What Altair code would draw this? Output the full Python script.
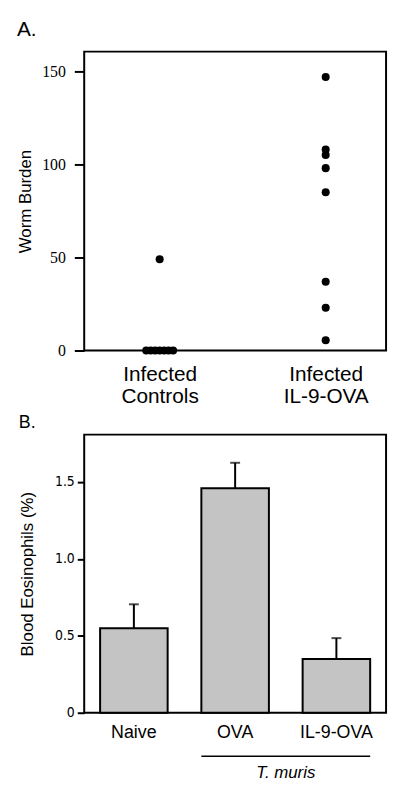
import altair as alt
import pandas as pd

# ---------------- Panel A data ----------------
groups = ["Infected Controls", "Infected IL-9-OVA"]
group_labels = [["Infected", "Controls"], ["Infected", "IL-9-OVA"]]
controls_worms = [0, 0, 0, 0, 0, 0, 0, 49]
il9_worms = [147, 108, 105, 98, 85, 37, 23, 5.5]

# ---------------- Panel B data ----------------
conditions = ["Naive", "OVA", "IL-9-OVA"]
eosinophils = [0.55, 1.46, 0.35]
eos_sem = [0.155, 0.165, 0.135]
bracket_start = "OVA"
bracket_end = "IL-9-OVA"
bracket_label = "T. muris"

dfA = pd.DataFrame(
    {"gi": [0] * len(controls_worms) + [1] * len(il9_worms),
     "worms": controls_worms + il9_worms}
)
dfB = pd.DataFrame({"cond": conditions, "eos": eosinophils, "sem": eos_sem})
dfB["upper"] = dfB["eos"] + dfB["sem"]
dfBr = pd.DataFrame({"start": [bracket_start], "end": [bracket_end], "label": [bracket_label]})

W = 305
HA = 302
HB = 281

label_expr = "[" + ",".join("['" + "','".join(l) + "']" for l in group_labels) + "][datum.value]"

chartA = (
    alt.Chart(dfA)
    .transform_window(rank="row_number()", groupby=["gi", "worms"])
    .transform_joinaggregate(n="count()", groupby=["gi", "worms"])
    .transform_calculate(xpos="datum.gi + (datum.rank - (datum.n + 1) / 2) * 0.027")
    .mark_circle(size=66, color="black", opacity=1)
    .encode(
        x=alt.X(
            "xpos:Q",
            scale=alt.Scale(domain=[-0.4545, 1.3636], nice=False, zero=False),
            axis=alt.Axis(
                values=[0, 1], labelExpr=label_expr, ticks=False, domain=False, grid=False,
                labelFontSize=21, labelLineHeight=23, labelPadding=13, title=None,
                labelColor="black", labelFont="Liberation Sans",
            ),
        ),
        y=alt.Y(
            "worms:Q",
            scale=alt.Scale(domain=[0, 160.6], nice=False),
            axis=alt.Axis(
                values=[0, 50, 100, 150], grid=False, domain=False, tickSize=10, tickWidth=2,
                tickColor="black", labelFont="Liberation Serif", labelFontSize=16,
                labelColor="black", labelPadding=9, title="Worm Burden", titleFontSize=17,
                titleFontWeight="normal", titleFont="Liberation Sans", titleColor="black",
                titlePadding=7,
            ),
        ),
    )
    .properties(
        width=W, height=HA,
        title=alt.TitleParams("A.", anchor="start", fontSize=21, fontWeight="normal",
                              font="Liberation Sans", color="black", offset=12, frame="bounds"),
    )
)

xB = alt.Scale(domain=conditions, paddingInner=0.333, paddingOuter=0.157)
yB = alt.Scale(domain=[0, 1.808], nice=False)
xaxisB = alt.Axis(ticks=False, domain=False, labelAngle=0, labelFontSize=18,
                  labelAlign="center", bandPosition=0.5,
                  labelPadding=11, title=None, labelColor="black", labelFont="Liberation Sans")

bars = alt.Chart(dfB).mark_bar(color="#c4c4c4", stroke="black", strokeWidth=2).encode(
    x=alt.X("cond:N", scale=xB, sort=conditions, axis=xaxisB),
    y=alt.Y(
        "eos:Q", scale=yB,
        axis=alt.Axis(
            values=[0, 0.5, 1.0, 1.5], grid=False, domain=False, tickSize=7, tickWidth=2,
            tickColor="black", labelExpr="datum.value == 0 ? '0' : format(datum.value, '.1f')",
            labelFont="Liberation Sans Narrow, DejaVu Sans Condensed, Liberation Sans",
            labelFontSize=14, labelColor="black",
            labelPadding=3, title="Blood Eosinophils (%)", titleFontSize=17,
            titleFontWeight="normal", titleFont="Liberation Sans", titleColor="black",
            titlePadding=18,
        ),
    ),
)
err = alt.Chart(dfB).mark_rule(color="black", strokeWidth=2).encode(
    x=alt.X("cond:N", scale=xB, sort=conditions, axis=xaxisB),
    y=alt.Y("eos:Q", scale=yB), y2="upper:Q"
)
caps = alt.Chart(dfB).mark_tick(color="black", thickness=2, size=10, orient="horizontal").encode(
    x=alt.X("cond:N", scale=xB, sort=conditions, axis=xaxisB), y=alt.Y("upper:Q", scale=yB)
)
bracket = alt.Chart(dfBr).mark_rule(color="black", strokeWidth=1.5).encode(
    x=alt.X("start:N", scale=xB, bandPosition=0, axis=xaxisB),
    x2=alt.X2("end:N", bandPosition=1),
    y=alt.value(HB + 44),
)
bracket_text = alt.Chart(dfBr).mark_text(
    fontSize=17, fontStyle="italic", font="Liberation Sans", color="black",
    baseline="alphabetic", dx=17,
).encode(
    x=alt.X("start:N", scale=xB, bandPosition=1, axis=xaxisB),
    y=alt.value(HB + 66),
    text="label:N",
)

chartB = alt.layer(err, bars, caps, bracket, bracket_text).properties(
    width=W, height=HB,
    title=alt.TitleParams("B.", anchor="start", fontSize=18, fontWeight="normal",
                          font="Liberation Sans", color="black", offset=3, frame="bounds"),
)

chart = (
    alt.vconcat(chartA, chartB, spacing=5)
    .properties(padding={"left": 8, "top": 6, "right": 5, "bottom": 5})
    .configure(background="white", view=alt.ViewConfig(stroke="black", strokeWidth=2))
)

chart.save("out.html", embed_options={"renderer": "svg", "actions": False})
